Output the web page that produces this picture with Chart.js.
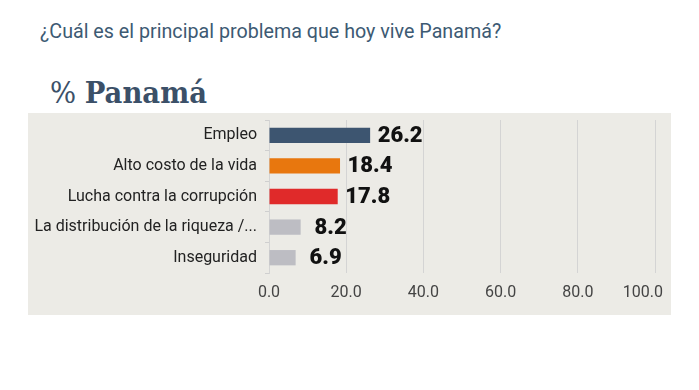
<!DOCTYPE html>
<html>
<head>
<meta charset="utf-8">
<script src="https://cdn.jsdelivr.net/npm/chart.js@4/dist/chart.umd.min.js"></script>
<style>
  html, body { margin: 0; padding: 0; background: #ffffff; width: 699px; height: 390px; overflow: hidden; }
  #title { position: absolute; left: 40px; top: 22px; font-family: Roboto, sans-serif; font-size: 19.7px; line-height: 19.7px; color: #3d5a73; white-space: nowrap; }
  #subtitle { position: absolute; left: 50px; top: 77px; font-family: "DejaVu Serif Condensed", "DejaVu Serif", serif; font-size: 30.5px; line-height: 30.5px; color: #3b5068; white-space: nowrap; }
  #subtitle b { font-weight: bold; }
  #subtitle span { font-weight: normal; }
  #panel { position: absolute; left: 28px; top: 113px; width: 643px; height: 202px; background: #ecebe6; }
  #panel canvas { display: block; }
</style>
</head>
<body>
<div id="title">¿Cuál es el principal problema que hoy vive Panamá?</div>
<div id="subtitle"><span>%</span> <b>Panamá</b></div>
<div id="panel"><canvas id="c" width="643" height="202"></canvas></div>
<script>
const categories = ["Empleo", "Alto costo de la vida", "Lucha contra la corrupción", "La distribución de la riqueza /...", "Inseguridad"];
const values = [26.2, 18.4, 17.8, 8.2, 6.9];
const barColors = ["#3d5570", "#e8770e", "#e02a2a", "#bdbdc3", "#bdbdc3"];
const xTicks = [0, 20, 40, 60, 80, 100];

const valueLabels = {
  id: 'valueLabels',
  afterDatasetsDraw(chart) {
    const ctx = chart.ctx;
    const meta = chart.getDatasetMeta(0);
    ctx.save();
    ctx.font = '900 22px Roboto, sans-serif';
    ctx.fillStyle = '#111111';
    ctx.textAlign = 'center';
    ctx.textBaseline = 'middle';
    meta.data.forEach((el, i) => {
      ctx.fillText(values[i].toFixed(1), el.x + 30, el.y + 1);
    });
    ctx.restore();
  }
};

// x tick labels, kept inside the panel (last label pulled in like the reference)
const xLabels = {
  id: 'xLabels',
  afterDraw(chart) {
    const ctx = chart.ctx;
    const scale = chart.scales.x;
    const maxRight = chart.width - 8;
    ctx.save();
    ctx.font = '16px Roboto, sans-serif';
    ctx.fillStyle = '#444444';
    ctx.textAlign = 'center';
    ctx.textBaseline = 'middle';
    xTicks.forEach(v => {
      const txt = v.toFixed(1);
      const w = ctx.measureText(txt).width;
      let x = scale.getPixelForValue(v);
      if (x + w / 2 > maxRight) x = maxRight - w / 2;
      ctx.fillText(txt, x, scale.top + 20);
    });
    ctx.restore();
  }
};

new Chart(document.getElementById('c'), {
  type: 'bar',
  data: {
    labels: categories,
    datasets: [{
      data: values,
      backgroundColor: barColors,
      borderWidth: 0,
      barPercentage: 0.5,
      categoryPercentage: 1.0
    }]
  },
  options: {
    indexAxis: 'y',
    responsive: false,
    animation: false,
    devicePixelRatio: 1,
    layout: { padding: { top: 7, right: 16, bottom: 0, left: 0 } },
    plugins: { legend: { display: false }, tooltip: { enabled: false } },
    scales: {
      x: {
        min: 0, max: 100,
        afterBuildTicks(scale) { scale.ticks = xTicks.map(v => ({ value: v })); },
        afterFit(scale) { scale.height = 42; scale.paddingLeft = 0; scale.paddingRight = 0; },
        grid: { color: '#d4d4d4', drawTicks: false, lineWidth: 1 },
        border: { display: false },
        ticks: { display: false }
      },
      y: {
        afterFit(scale) { scale.width = 241; scale.paddingTop = 0; scale.paddingBottom = 0; },
        grid: { offset: true, drawOnChartArea: false, drawTicks: true, tickLength: 4, color: '#cfcfcf' },
        border: { display: true, color: '#d4d4d4' },
        ticks: {
          padding: 8,
          color: '#222222',
          font: { family: 'Roboto', size: 16 }
        }
      }
    }
  },
  plugins: [valueLabels, xLabels]
});
</script>
</body>
</html>
